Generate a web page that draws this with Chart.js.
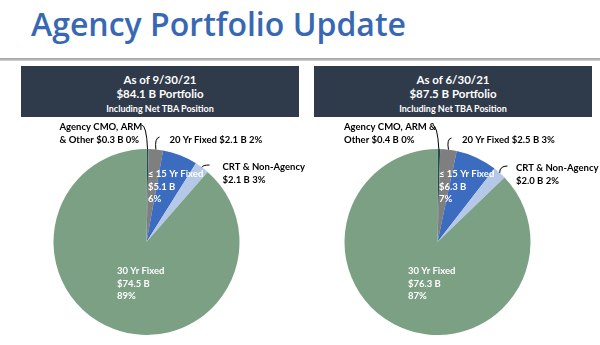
<!DOCTYPE html>
<html>
<head>
<meta charset="utf-8">
<script src="https://cdn.jsdelivr.net/npm/chart.js@4.4.1/dist/chart.umd.min.js"></script>
<style>
  html, body { margin: 0; padding: 0; background: #fff; }
  body { width: 600px; height: 345px; position: relative; overflow: hidden; font-family: Lato, 'Open Sans', sans-serif; }
  #title { position: absolute; left: 31px; top: 4px; font-family: 'Open Sans', sans-serif; font-weight: 600; font-size: 32px; color: #3868b3; white-space: nowrap; line-height: 40px; }
  #rule { position: absolute; left: 0; top: 58px; width: 600px; height: 3px; background: linear-gradient(#9c9c9c, #d4d4d4); }
  .box { position: absolute; top: 66px; width: 278px; height: 51px; background: #2f3a4a; color: #fff; text-align: center; font-weight: 700; }
  .box div { position: absolute; left: 0; width: 100%; line-height: 14px; }
  .box .l1 { top: 7px; font-size: 11.5px; }
  .box .l2 { top: 21px; font-size: 11.5px; }
  .box .l3 { top: 36px; font-size: 9px; }
  canvas { position: absolute; }
</style>
</head>
<body>
<div id="title">Agency Portfolio Update</div>
<div id="rule"></div>
<div class="box" style="left:21px"><div class="l1">As of 9/30/21</div><div class="l2">$84.1 B Portfolio</div><div class="l3">Including Net TBA Position</div></div>
<div class="box" style="left:314px"><div class="l1">As of 6/30/21</div><div class="l2">$87.5 B Portfolio</div><div class="l3">Including Net TBA Position</div></div>
<canvas id="pieSep" width="320" height="227" style="left:0;top:118px"></canvas>
<canvas id="pieJun" width="300" height="227" style="left:300px;top:118px"></canvas>
<script>
const categories = ['Agency CMO, ARM & Other', '20 Yr Fixed', '≤ 15 Yr Fixed', 'CRT & Non-Agency', '30 Yr Fixed'];
const sep21Values = [0.3, 2.1, 5.1, 2.1, 74.5];
const sep21Pct = ['0%', '2%', '6%', '3%', '89%'];
const jun21Values = [0.4, 2.5, 6.3, 2.0, 76.3];
const jun21Pct = ['0%', '3%', '7%', '2%', '87%'];

const sliceColors = ['#1e4f4d', '#7f7f7f', '#3b6cbf', '#b6c8e8', '#7ba084'];

// title: squeeze letters so it spans like the slide
const title = document.getElementById('title');
const tw = title.getBoundingClientRect().width;
title.style.letterSpacing = ((375 - tw) / 22) + 'px';

function money(v) { return '$' + v.toFixed(1) + ' B'; }

// label text + placement, offsets are relative to pie centre
function labelSetup(values, pct, cmoLines) {
  return [
    { lines: cmoLines, at: [-87, -115], color: '#000', leader: [[-5, -117], [0, -117]] },
    { lines: [categories[1] + ' ' + money(values[1]) + ' ' + pct[1]], at: [23, -102], color: '#000', leader: [[13, -105], [8, -104]] },
    { lines: [categories[2], money(values[2]), pct[2]], at: [1.5, -68], color: '#fff' },
    { lines: ['CRT & Non-Agency', money(values[3]) + ' ' + pct[3]], at: [76, -75], color: '#000', leader: [[63, -77], [56, -77]] },
    { lines: [categories[4], money(values[4]), pct[4]], at: [-29.5, 29], color: '#fff' }
  ];
}

const sepLabels = labelSetup(sep21Values, sep21Pct, ['Agency CMO, ARM', '& Other ' + money(sep21Values[0]) + ' ' + sep21Pct[0]]);
const junLabels = labelSetup(jun21Values, jun21Pct, ['Agency CMO, ARM &', 'Other ' + money(jun21Values[0]) + ' ' + jun21Pct[0]]);
junLabels[0].at = [-93.5, -115];
junLabels[1].at = [24.5, -102];
junLabels[1].leader = [[14, -104], [9, -103]];
junLabels[3].at = [78.5, -74];
junLabels[3].leader = [[70, -76], [62, -76]];

const sliceLabels = {
  id: 'sliceLabels',
  afterDatasetsDraw(chart, args, opts) {
    const ctx = chart.ctx;
    const arcs = chart.getDatasetMeta(0).data;
    ctx.save();
    ctx.font = '700 9.5px Lato';
    ctx.textBaseline = 'middle';
    ctx.textAlign = 'left';
    opts.items.forEach((item, i) => {
      const arc = arcs[i];
      const cx = arc.x, cy = arc.y;
      if (item.leader) {
        const mid = (arc.startAngle + arc.endAngle) / 2;
        const ex = cx + Math.cos(mid) * arc.outerRadius;
        const ey = cy + Math.sin(mid) * arc.outerRadius;
        ctx.beginPath();
        ctx.moveTo(cx + item.leader[0][0], cy + item.leader[0][1]);
        ctx.quadraticCurveTo(cx + item.leader[1][0], cy + item.leader[1][1], ex, ey);
        ctx.strokeStyle = '#000';
        ctx.lineWidth = 1;
        ctx.stroke();
      }
      ctx.fillStyle = item.color;
      item.lines.forEach((t, k) => {
        ctx.fillText(t, cx + item.at[0], cy + item.at[1] + k * 12.5);
      });
    });
    ctx.restore();
  }
};

function makePie(id, values, items, pad) {
  new Chart(document.getElementById(id), {
    type: 'pie',
    data: {
      labels: categories,
      datasets: [{ data: values, backgroundColor: sliceColors, borderWidth: 0 }]
    },
    options: {
      responsive: false,
      animation: false,
      layout: { padding: pad },
      plugins: {
        legend: { display: false },
        tooltip: { enabled: false },
        sliceLabels: { items: items }
      }
    },
    plugins: [sliceLabels]
  });
}

makePie('pieSep', sep21Values, sepLabels, { left: 53.5, right: 80.5, top: 31, bottom: 10 });
makePie('pieJun', jun21Values, junLabels, { left: 44.5, right: 69.5, top: 31, bottom: 10 });
</script>
</body>
</html>
